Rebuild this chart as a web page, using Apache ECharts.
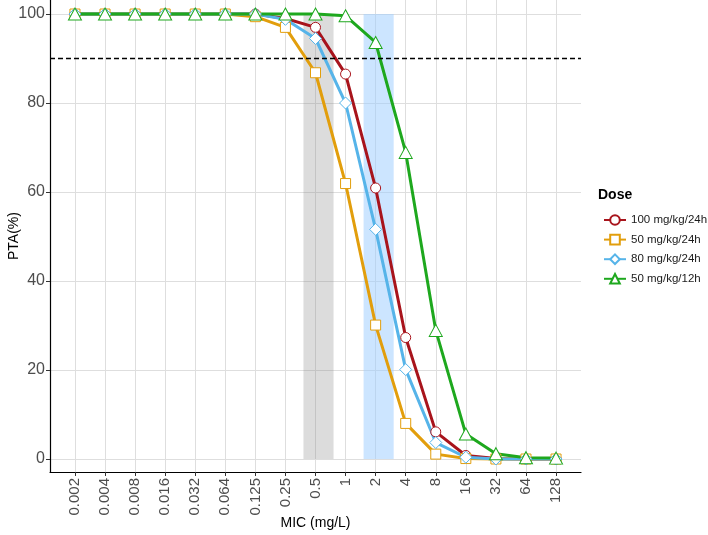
<!DOCTYPE html>
<html>
<head>
<meta charset="utf-8">
<script src="https://cdn.jsdelivr.net/npm/echarts@6/dist/echarts.min.js"></script>
<style>
  html, body { margin: 0; padding: 0; background: #fff; }
  #chart { width: 708px; height: 535px; }
</style>
</head>
<body>
<div id="chart"></div>
<script>
// MIC 分类
const micLabels = ["0.002", "0.004", "0.008", "0.016", "0.032", "0.064", "0.125", "0.25", "0.5", "1", "2", "4", "8", "16", "32", "64", "128"]
const yTicks = [0, 20, 40, 60, 80, 100]

// 各剂量 PTA(%)
const dose100q24 = [100, 100, 100, 100, 100, 100, 100, 99, 97, 86.5, 60.9, 27.3, 6.1, 0.8, 0.1, 0, 0]
const dose50q24 = [100, 100, 100, 100, 100, 100, 99.4, 97, 86.8, 61.9, 30.1, 8.0, 1.1, 0.1, 0, 0, 0]
const dose80q24 = [100, 100, 100, 100, 100, 100, 100, 98.8, 94.5, 80, 51.6, 20.1, 3.7, 0.4, 0, 0, 0]
const dose50q12 = [100, 100, 100, 100, 100, 100, 100, 100, 100, 99.6, 93.6, 68.9, 28.9, 5.6, 1.2, 0.3, 0.2]

const seriesNames = ["100 mg/kg/24h", "50 mg/kg/24h", "80 mg/kg/24h", "50 mg/kg/12h"]
const target = 90

const idx = micLabels.map((_, i) => i)
const toPoints = arr => arr.map((v, i) => [i, v])

function lineSeries(name, data, color, symbol, size) {
  return {
    name,
    type: "line",
    data: toPoints(data),
    symbol,
    symbolSize: size,
    showAllSymbol: true,
    lineStyle: { color, width: 3 },
    itemStyle: { color: "#fff", borderColor: color, borderWidth: 1 },
    emphasis: { disabled: true }
  }
}

const chart = echarts.init(document.getElementById("chart"))

const s1 = lineSeries(seriesNames[0], dose100q24, "#A8141C", "circle", 10)
// 阴影区和 90% 参考线挂在第一个系列上
s1.markArea = {
  silent: true,
  data: [
    [{ xAxis: 7.6, yAxis: 0, itemStyle: { color: "rgba(128,128,128,0.28)" } }, { xAxis: 8.6, yAxis: 100 }],
    [{ xAxis: 9.6, yAxis: 0, itemStyle: { color: "rgba(153,204,255,0.5)" } }, { xAxis: 10.6, yAxis: 100 }]
  ]
}
s1.markLine = {
  silent: true,
  symbol: "none",
  label: { show: false },
  lineStyle: { color: "#000", type: [5, 3], width: 1.3 },
  data: [{ yAxis: target }]
}

chart.setOption({
  animation: false,
  title: {
    text: "Dose",
    left: 598,
    top: 188,
    padding: 0,
    textStyle: { fontSize: 14, fontWeight: "bold", color: "#000", fontFamily: "Liberation Sans" }
  },
  legend: {
    orient: "vertical",
    left: 603,
    top: 214,
    padding: 0,
    itemWidth: 22,
    itemHeight: 12,
    itemGap: 7.6,
    textStyle: { fontSize: 11.5, lineHeight: 12, color: "#1a1a1a", fontFamily: "Liberation Sans" },
    data: seriesNames
  },
  grid: { left: 50, right: 127, top: 0, bottom: 63, outerBoundsMode: "none" },
  xAxis: {
    type: "value",
    min: -0.83,
    max: 16.83,
    name: "MIC (mg/L)",
    nameLocation: "middle",
    nameGap: 44,
    nameMoveOverlap: false,
    nameTextStyle: { fontSize: 14, color: "#000", fontFamily: "Liberation Sans" },
    axisLine: { onZero: false, lineStyle: { color: "#000", width: 1.2 } },
    axisTick: { customValues: idx, length: 4, lineStyle: { color: "#333" } },
    axisLabel: {
      customValues: idx,
      formatter: v => micLabels[Math.round(v)],
      rotate: 90,
      margin: 6,
      fontSize: 15,
      color: "#4D4D4D",
      fontFamily: "Liberation Sans"
    },
    splitLine: { show: true, lineStyle: { color: "#DEDEDE", width: 1 } }
  },
  yAxis: {
    type: "value",
    min: -2.92,
    max: 103.15,
    name: "PTA(%)",
    nameLocation: "middle",
    nameGap: 29,
    nameRotate: 90,
    nameMoveOverlap: false,
    nameTextStyle: { fontSize: 14, color: "#000", fontFamily: "Liberation Sans" },
    axisLine: { show: true, onZero: false, lineStyle: { color: "#000", width: 1.2 } },
    axisTick: { show: true, customValues: yTicks, length: 4, lineStyle: { color: "#333" } },
    axisLabel: {
      customValues: yTicks,
      margin: 5,
      fontSize: 16,
      color: "#4D4D4D",
      fontFamily: "Liberation Sans"
    },
    splitLine: { show: true, lineStyle: { color: "#DEDEDE", width: 1 } }
  },
  series: [
    s1,
    lineSeries(seriesNames[1], dose50q24, "#E29E0C", "rect", 10),
    lineSeries(seriesNames[2], dose80q24, "#56B4E9", "diamond", 12),
    lineSeries(seriesNames[3], dose50q12, "#1EA81E", "triangle", [13, 12])
  ]
})
</script>
</body>
</html>
